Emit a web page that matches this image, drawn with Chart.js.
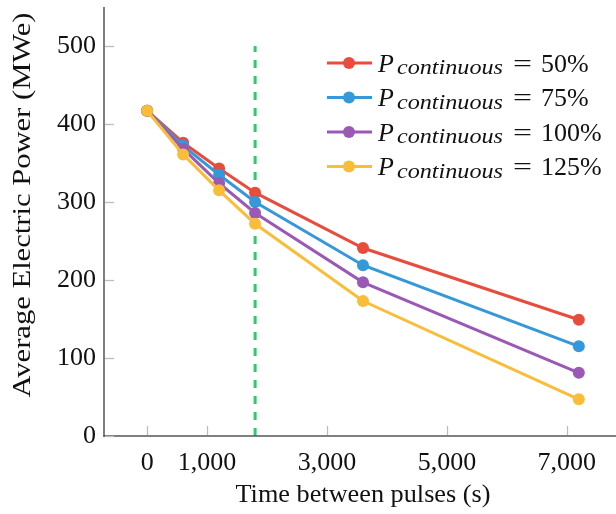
<!DOCTYPE html>
<html>
<head>
<meta charset="utf-8">
<script src="https://cdn.jsdelivr.net/npm/chart.js@4/dist/chart.umd.min.js"></script>
<style>
  html, body { margin: 0; padding: 0; background: #fff; overflow: hidden; }
  #wrap { width: 616px; height: 514px; }
  canvas { display: block; }
</style>
</head>
<body>
<div id="wrap"><canvas id="c" width="616" height="514"></canvas></div>
<script>
const timeBetweenPulses = [0, 600, 1200, 1800, 3600, 7200];
const power50  = [417, 376, 343, 312, 241, 149];
const power75  = [417, 372, 335, 300, 219, 115];
const power100 = [417, 368, 324, 286, 197, 81];
const power125 = [417, 361, 315, 272, 173, 47];
const seriesPercent = ['50%', '75%', '100%', '125%'];
const xTickValues = [0, 1000, 3000, 5000, 7000];
const yTickValues = [0, 100, 200, 300, 400, 500];
const markerLineX = 1800;
const markerLineY = [0, 500];

const colors = ['#e74c3c', '#3498db', '#9b59b6', '#f9bd38'];
const SERIF = '"Liberation Serif", "DejaVu Serif", serif';

function pts(ys) { return timeBetweenPulses.map((x, i) => ({ x: x, y: ys[i] })); }

const allSeries = [power50, power75, power100, power125];
const datasets = allSeries.map((ys, i) => ({
  label: 'P_continuous = ' + seriesPercent[i],
  data: pts(ys),
  borderColor: colors[i],
  backgroundColor: colors[i],
  borderWidth: 3,
  pointRadius: 6,
  pointHoverRadius: 6,
  pointBorderWidth: 0,
  tension: 0,
  order: 4 - i
}));
datasets.push({
  label: 'marker',
  data: markerLineY.map(y => ({ x: markerLineX, y: y })),
  borderColor: '#2ecc71',
  borderWidth: 3,
  borderDash: [8, 8],
  pointRadius: 0,
  order: 10
});

function fitText(ctx, text, x, y, targetW) {
  const w = ctx.measureText(text).width;
  const k = targetW / w;
  ctx.save();
  ctx.translate(x, y);
  ctx.scale(k, 1);
  ctx.fillText(text, 0, 0);
  ctx.restore();
}

const extras = {
  id: 'extras',
  afterDraw(chart) {
    const ctx = chart.ctx;
    const xs = chart.scales.x, ys = chart.scales.y;
    const y0 = ys.getPixelForValue(0);
    const yTop = ys.getPixelForValue(550);
    const xL = xs.getPixelForValue(-720);
    ctx.save();
    ctx.setLineDash([]);
    // axis lines
    ctx.fillStyle = '#555';
    ctx.fillRect(xL - 0.75, yTop, 1.5, y0 - yTop + 0.75);
    ctx.fillRect(xL - 0.75, y0 - 0.75, 616 - xL + 1, 1.5);
    // inner tick marks
    ctx.strokeStyle = '#bdbdbd';
    ctx.lineWidth = 1.3;
    xTickValues.forEach(v => {
      const px = Math.round(xs.getPixelForValue(v)) + 0.5;
      ctx.beginPath(); ctx.moveTo(px, y0 - 1); ctx.lineTo(px, y0 - 10); ctx.stroke();
    });
    yTickValues.forEach(v => {
      const py = Math.round(ys.getPixelForValue(v)) + 0.5;
      ctx.beginPath(); ctx.moveTo(xL + 1, py); ctx.lineTo(xL + 10, py); ctx.stroke();
    });
    // axis titles
    ctx.fillStyle = '#111';
    ctx.font = '25px ' + SERIF;
    ctx.textAlign = 'center';
    ctx.textBaseline = 'alphabetic';
    fitText(ctx, 'Time between pulses (s)', 363, 502, 255);
    ctx.save();
    ctx.translate(30, 205);
    ctx.rotate(-Math.PI / 2);
    fitText(ctx, 'Average Electric Power (MWe)', 0, 0, 385);
    ctx.restore();
    // legend
    const rows = [63, 97.5, 132, 166.5];
    rows.forEach((ry, i) => {
      ctx.strokeStyle = colors[i];
      ctx.lineWidth = 3;
      ctx.beginPath(); ctx.moveTo(327, ry); ctx.lineTo(372, ry); ctx.stroke();
      ctx.fillStyle = colors[i];
      ctx.beginPath(); ctx.arc(349, ry, 6, 0, Math.PI * 2); ctx.fill();
      ctx.fillStyle = '#111';
      ctx.textAlign = 'left';
      ctx.textBaseline = 'alphabetic';
      ctx.font = 'italic 26px ' + SERIF;
      ctx.fillText('P', 378, ry + 8.5);
      ctx.font = 'italic 20px ' + SERIF;
      fitText(ctx, 'continuous', 397, ry + 11, 106);
      ctx.font = '26px ' + SERIF;
      fitText(ctx, '=', 513, ry + 8.5, 19);
      ctx.fillText(seriesPercent[i], 541, ry + 8.5);
    });
    ctx.restore();
  }
};

new Chart(document.getElementById('c'), {
  type: 'line',
  data: { datasets: datasets },
  plugins: [extras],
  options: {
    responsive: false,
    animation: false,
    devicePixelRatio: 1,
    layout: { autoPadding: false, padding: { top: 7, right: 0, left: 0, bottom: 0 } },
    plugins: { legend: { display: false }, tooltip: { enabled: false } },
    scales: {
      x: {
        type: 'linear',
        min: -720,
        max: 7820,
        grid: { display: false },
        border: { display: false },
        afterBuildTicks: s => { s.ticks = xTickValues.map(v => ({ value: v })); },
        afterFit: s => { s.height = 78; s.paddingLeft = 0; s.paddingRight = 0; },
        ticks: {
          color: '#111',
          font: { family: SERIF, size: 26 },
          padding: 4,
          maxRotation: 0,
          autoSkip: false,
          callback: v => v === 0 ? '0' : v.toLocaleString('en-US')
        }
      },
      y: {
        type: 'linear',
        min: 0,
        max: 550,
        grid: { display: false },
        border: { display: false },
        afterBuildTicks: s => { s.ticks = yTickValues.map(v => ({ value: v })); },
        afterFit: s => { s.width = 104; s.paddingTop = 0; s.paddingBottom = 0; },
        ticks: {
          color: '#111',
          font: { family: SERIF, size: 26, lineHeight: 0.5 },
          padding: 0,
          autoSkip: false
        }
      }
    }
  }
});
</script>
</body>
</html>
